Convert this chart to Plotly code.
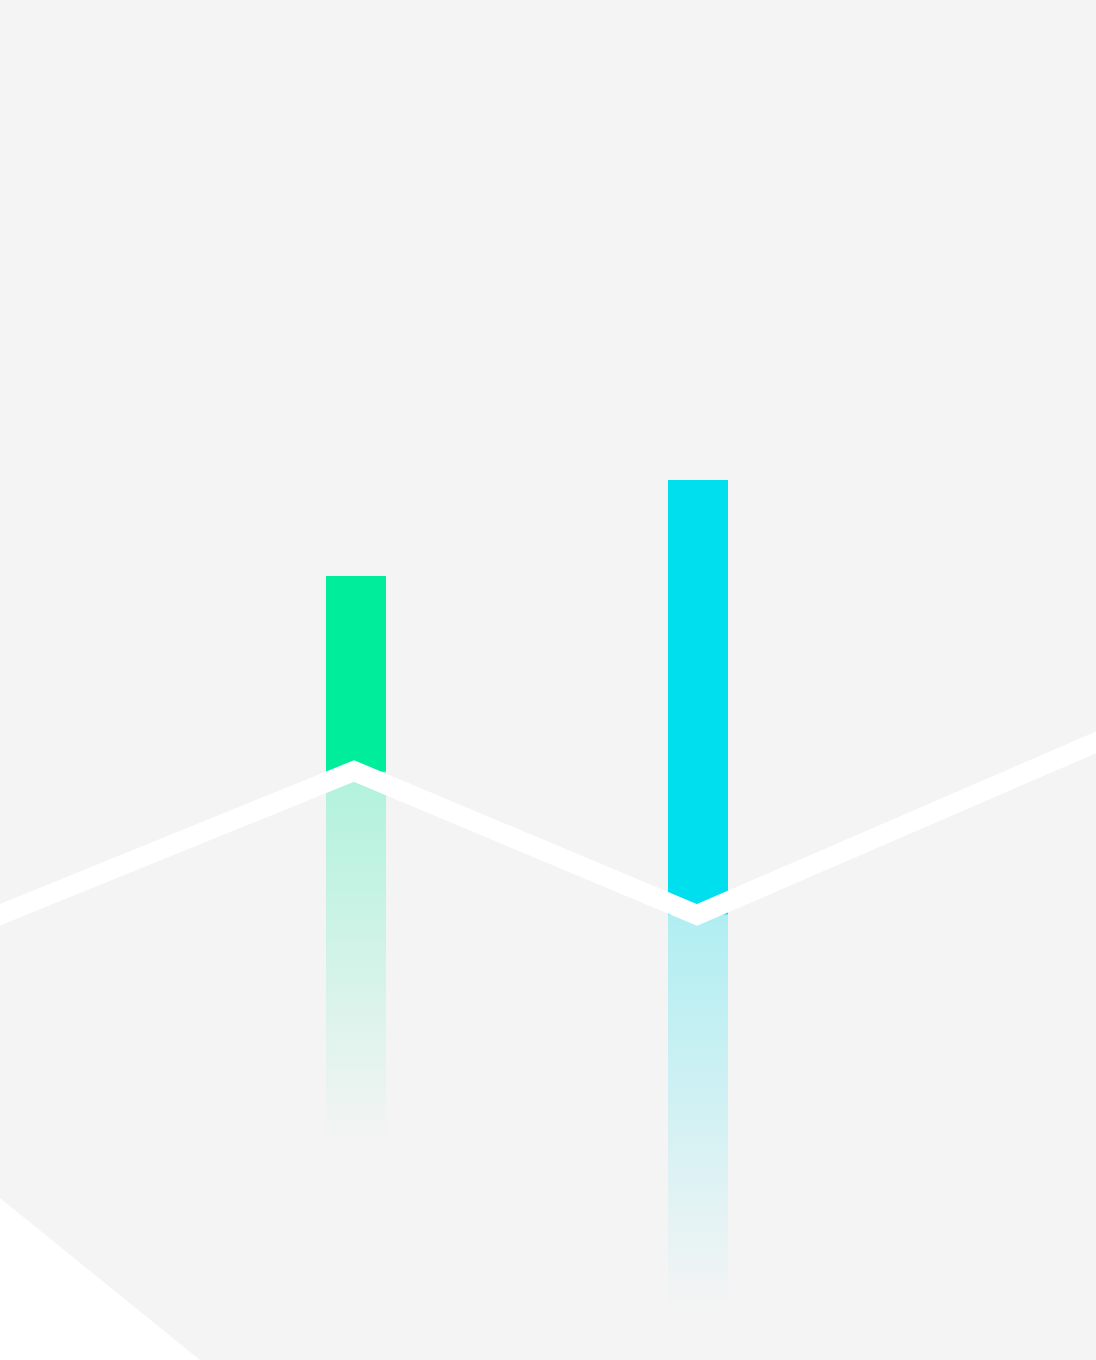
import numpy as np
import plotly.graph_objects as go

# ---- data (value units; y grows upward) ----
bar_names = ["A", "B"]
bar_x = [35.6, 69.8]
bar_top = [78.4, 88.0]
fade_bottom = [21.5, 5.0]
bar_colors = ["#00EE9C", "#00DFEE"]
fade_rgb = ["0,238,156", "0,223,238"]

line_x = [-5.0, 35.4, 69.7, 115.0]
line_y = [42.5, 58.9, 44.5, 64.1]

corner_x = [0.0, 20.0, 0.0]
corner_y = [16.2, 0.0, 0.0]

X_RANGE = [0, 109.6]
Y_RANGE = [0, 136.0]
BAR_W = 6.0

fig = go.Figure()

# white corner wedge
fig.add_trace(go.Scatter(x=corner_x, y=corner_y, fill="toself", mode="none",
                         fillcolor="#ffffff", hoverinfo="skip"))

# line value at bar centres
bases = np.interp(bar_x, line_x, line_y)

# faded reflections
for cx, base, bot, rgb in zip(bar_x, bases, fade_bottom, fade_rgb):
    x0, x1 = cx - BAR_W / 2, cx + BAR_W / 2
    fig.add_trace(go.Scatter(
        x=[x0, x1, x1, x0, x0], y=[base, base, bot, bot, base],
        fill="toself", mode="none", hoverinfo="skip",
        fillgradient=dict(type="vertical",
                          colorscale=[[0, f"rgba({rgb},0)"], [1, f"rgba({rgb},0.28)"]]),
    ))

# solid bars
fig.add_trace(go.Bar(x=bar_x, y=[t - b for t, b in zip(bar_top, bases)], base=bases,
                     width=BAR_W, marker=dict(color=bar_colors, line=dict(width=0)),
                     hoverinfo="skip"))

# white polyline
fig.add_trace(go.Scatter(x=line_x, y=line_y, mode="lines",
                         line=dict(color="#ffffff", width=20), hoverinfo="skip"))

fig.update_layout(
    width=1096, height=1360, margin=dict(l=0, r=0, t=0, b=0),
    paper_bgcolor="#f4f4f4", plot_bgcolor="#f4f4f4", showlegend=False,
    barmode="overlay",
    xaxis=dict(range=X_RANGE, visible=False, fixedrange=True),
    yaxis=dict(range=Y_RANGE, visible=False, fixedrange=True),
)

fig.write_html("out.html", config={"displayModeBar": False},
               post_script="document.body.style.margin='0';document.body.style.overflow='hidden';")
